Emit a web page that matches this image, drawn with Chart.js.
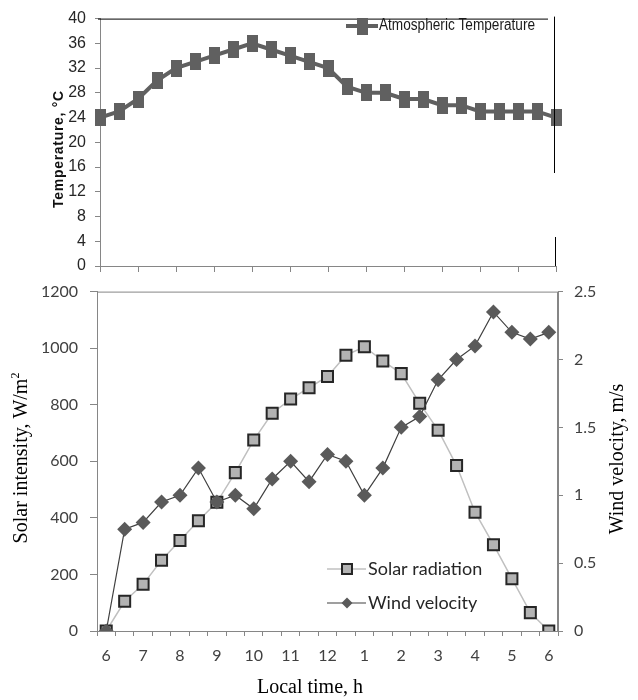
<!DOCTYPE html>
<html>
<head>
<meta charset="utf-8">
<title>Temperature, solar radiation and wind velocity</title>
<script src="https://cdn.jsdelivr.net/npm/chart.js@4.4.1/dist/chart.umd.min.js"></script>
<style>
  html, body { margin: 0; padding: 0; background: #fff; }
  #page { position: relative; width: 638px; height: 700px; overflow: hidden; }
  #topBox { position: absolute; left: 0; top: 0; width: 638px; height: 290px; z-index: 2; }
  #botBox { position: absolute; left: 0; top: 270px; width: 638px; height: 430px; z-index: 1; }
</style>
</head>
<body>
<div id="page">
  <div id="botBox"><canvas id="solarChart"></canvas></div>
  <div id="topBox"><canvas id="tempChart"></canvas></div>
</div>
<script>
// half-hourly readings, 6 am to 6 pm
const timeLabels = ['6', '', '7', '', '8', '', '9', '', '10', '', '11', '', '12', '',
                    '1', '', '2', '', '3', '', '4', '', '5', '', '6'];
const temperature = [24, 25, 27, 30, 32, 33, 34, 35, 36, 35, 34, 33, 32, 29, 28, 28,
                     27, 27, 26, 26, 25, 25, 25, 25, 24];
const solarRadiation = [0, 105, 165, 250, 320, 390, 455, 560, 675, 770, 820, 860, 900,
                        975, 1005, 955, 910, 805, 710, 585, 420, 305, 185, 65, 0];
const windVelocity = [0, 0.75, 0.8, 0.95, 1.0, 1.2, 0.95, 1.0, 0.9, 1.12, 1.25, 1.1, 1.3,
                      1.25, 1.0, 1.2, 1.5, 1.58, 1.85, 2.0, 2.1, 2.35, 2.2, 2.15, 2.2];

const narrowFont = "'Liberation Sans Narrow', 'Arial Narrow', 'Liberation Sans', sans-serif";
const serifFont = "'Liberation Serif', 'Times New Roman', serif";
const axisGray = '#868686';
const plainNumber = (v) => String(v);

// tall square marker of the top chart
const tallRect = document.createElement('canvas');
tallRect.width = 11;
tallRect.height = 17;
const trc = tallRect.getContext('2d');
trc.fillStyle = '#606060';
trc.fillRect(0, 0, 11, 17);

// ---------- top chart: atmospheric temperature ----------
const topDecor = {
    id: 'topDecor',
    afterDraw(chart) {
        const ctx = chart.ctx;
        const a = chart.chartArea;
        ctx.save();
        // frame lines
        ctx.strokeStyle = '#000';
        ctx.lineWidth = 1;
        ctx.beginPath();
        ctx.moveTo(98, a.top + 0.5);
        ctx.lineTo(548, a.top + 0.5);
        ctx.moveTo(554.5, a.top - 2);
        ctx.lineTo(554.5, 173);
        ctx.moveTo(555.5, 237);
        ctx.lineTo(555.5, a.bottom);
        ctx.stroke();

        // legend
        ctx.strokeStyle = '#606060';
        ctx.lineWidth = 4;
        ctx.beginPath();
        ctx.moveTo(346, 26);
        ctx.lineTo(378, 26);
        ctx.stroke();
        ctx.drawImage(tallRect, 362 - 5.5, 26 - 8.5);
        ctx.fillStyle = '#1a1a1a';
        ctx.font = '16px ' + narrowFont;
        ctx.textBaseline = 'middle';
        const legendText = 'Atmospheric Temperature';
        const lw = ctx.measureText(legendText).width;
        ctx.save();
        ctx.translate(379, 26);
        ctx.scale(Math.min(1, 156 / lw), 1);
        ctx.fillText(legendText, 0, 0);
        ctx.restore();

        // y title
        ctx.translate(59, 149);
        ctx.rotate(-Math.PI / 2);
        ctx.font = 'bold 14px Arial, "Liberation Sans", sans-serif';
        ctx.letterSpacing = '0.7px';
        ctx.textAlign = 'center';
        ctx.fillStyle = '#111';
        ctx.fillText('Temperature, \u00b0C', 0, 0);
        ctx.restore();
    }
};

new Chart(document.getElementById('tempChart'), {
    type: 'line',
    data: {
        labels: timeLabels,
        datasets: [{
            label: 'Atmospheric Temperature',
            data: temperature,
            borderColor: '#606060',
            borderWidth: 4,
            pointStyle: tallRect,
            pointRadius: 9,
            tension: 0
        }]
    },
    options: {
        responsive: true,
        maintainAspectRatio: false,
        animation: false,
        layout: { padding: { top: 15, right: 82, left: 0, bottom: 0 } },
        plugins: { legend: { display: false }, tooltip: { enabled: false } },
        scales: {
            x: {
                type: 'category',
                offset: false,
                border: { color: axisGray },
                grid: {
                    drawOnChartArea: false,
                    tickLength: 6,
                    tickColor: (c) => (c.index % 2 ? 'rgba(0,0,0,0)' : axisGray)
                },
                ticks: { display: false, autoSkip: false },
                afterFit: (s) => { s.height = 24; }
            },
            y: {
                min: 0,
                max: 40,
                border: { color: axisGray },
                grid: { drawOnChartArea: false, tickLength: 5, color: axisGray },
                ticks: {
                    stepSize: 4,
                    padding: 9,
                    color: '#262626',
                    font: { family: narrowFont, size: 16 },
                    callback: plainNumber
                },
                afterFit: (s) => { s.width = 100; }
            }
        }
    },
    plugins: [topDecor]
});

// ---------- bottom chart: solar radiation and wind velocity ----------
const botDecor = {
    id: 'botDecor',
    afterDraw(chart) {
        const ctx = chart.ctx;
        const a = chart.chartArea;
        ctx.save();
        ctx.strokeStyle = axisGray;
        ctx.lineWidth = 1;
        ctx.strokeRect(a.left + 0.5, a.top + 0.5, a.right - a.left - 1, a.bottom - a.top);

        // legend
        const sx = 347;
        ctx.lineWidth = 1.5;
        ctx.strokeStyle = '#c0c0c0';
        ctx.beginPath();
        ctx.moveTo(327, 299);
        ctx.lineTo(366, 299);
        ctx.stroke();
        ctx.fillStyle = '#b3b3b3';
        ctx.strokeStyle = '#262626';
        ctx.lineWidth = 2;
        ctx.fillRect(sx - 5, 299 - 5, 10, 10);
        ctx.strokeRect(sx - 5, 299 - 5, 10, 10);

        ctx.lineWidth = 1.2;
        ctx.strokeStyle = '#404040';
        ctx.beginPath();
        ctx.moveTo(327, 333);
        ctx.lineTo(366, 333);
        ctx.stroke();
        ctx.fillStyle = '#5a5a5a';
        ctx.beginPath();
        ctx.moveTo(sx, 333 - 5.5);
        ctx.lineTo(sx + 5.5, 333);
        ctx.lineTo(sx, 333 + 5.5);
        ctx.lineTo(sx - 5.5, 333);
        ctx.closePath();
        ctx.fill();

        ctx.fillStyle = '#262626';
        ctx.font = '18px Lato, sans-serif';
        ctx.textBaseline = 'middle';
        ctx.fillText('Solar radiation', 368, 299);
        ctx.fillText('Wind velocity', 368, 333);

        // axis titles
        ctx.fillStyle = '#000';
        ctx.font = '20px ' + serifFont;
        ctx.textAlign = 'center';
        ctx.fillText('Local time, h', 310, 418);

        ctx.save();
        ctx.translate(22, 188);
        ctx.rotate(-Math.PI / 2);
        const main = 'Solar intensity, W/m';
        ctx.textAlign = 'left';
        const w1 = ctx.measureText(main).width;
        ctx.font = '12px ' + serifFont;
        const w2 = ctx.measureText('2').width;
        const start = -(w1 + w2) / 2;
        ctx.font = '20px ' + serifFont;
        ctx.fillText(main, start, 0);
        ctx.font = '12px ' + serifFont;
        ctx.fillText('2', start + w1, -6);
        ctx.restore();

        ctx.save();
        ctx.translate(618, 189);
        ctx.rotate(-Math.PI / 2);
        ctx.font = '20px ' + serifFont;
        ctx.textAlign = 'center';
        ctx.fillText('Wind velocity, m/s', 0, 0);
        ctx.restore();

        ctx.restore();
    }
};

const tickFont = { family: 'Lato, sans-serif', size: 16 };

new Chart(document.getElementById('solarChart'), {
    type: 'line',
    data: {
        labels: timeLabels,
        datasets: [{
            label: 'Wind velocity',
            data: windVelocity,
            yAxisID: 'y1',
            borderColor: '#404040',
            borderWidth: 1.2,
            pointStyle: 'rectRot',
            pointRadius: 7.5,
            pointBackgroundColor: '#5a5a5a',
            pointBorderColor: '#5a5a5a',
            pointBorderWidth: 0,
            tension: 0
        }, {
            label: 'Solar radiation',
            data: solarRadiation,
            yAxisID: 'y',
            borderColor: '#c0c0c0',
            borderWidth: 1.5,
            pointStyle: 'rect',
            pointRadius: 7.8,
            pointBackgroundColor: '#b3b3b3',
            pointBorderColor: '#262626',
            pointBorderWidth: 2,
            tension: 0
        }]
    },
    options: {
        responsive: true,
        maintainAspectRatio: false,
        animation: false,
        layout: { padding: { top: 15, right: 0, left: 0, bottom: 0 } },
        plugins: { legend: { display: false }, tooltip: { enabled: false } },
        scales: {
            x: {
                type: 'category',
                offset: true,
                border: { color: axisGray },
                grid: { offset: true, drawOnChartArea: false, tickLength: 5, color: axisGray },
                ticks: { autoSkip: false, maxRotation: 0, padding: 10, color: '#404040', font: tickFont },
                afterFit: (s) => { s.height = 69; }
            },
            y: {
                position: 'left',
                min: 0,
                max: 1200,
                border: { color: axisGray },
                grid: { drawOnChartArea: false, tickLength: 7, color: axisGray },
                ticks: { stepSize: 200, padding: 12, color: '#404040', font: tickFont, callback: plainNumber },
                afterFit: (s) => { s.width = 97; }
            },
            y1: {
                position: 'right',
                min: 0,
                max: 2.5,
                border: { color: axisGray },
                grid: { drawOnChartArea: false, tickLength: 5, color: axisGray },
                ticks: { stepSize: 0.5, padding: 11, color: '#404040', font: tickFont, callback: plainNumber },
                afterFit: (s) => { s.width = 80; }
            }
        }
    },
    plugins: [botDecor]
});
</script>
</body>
</html>
